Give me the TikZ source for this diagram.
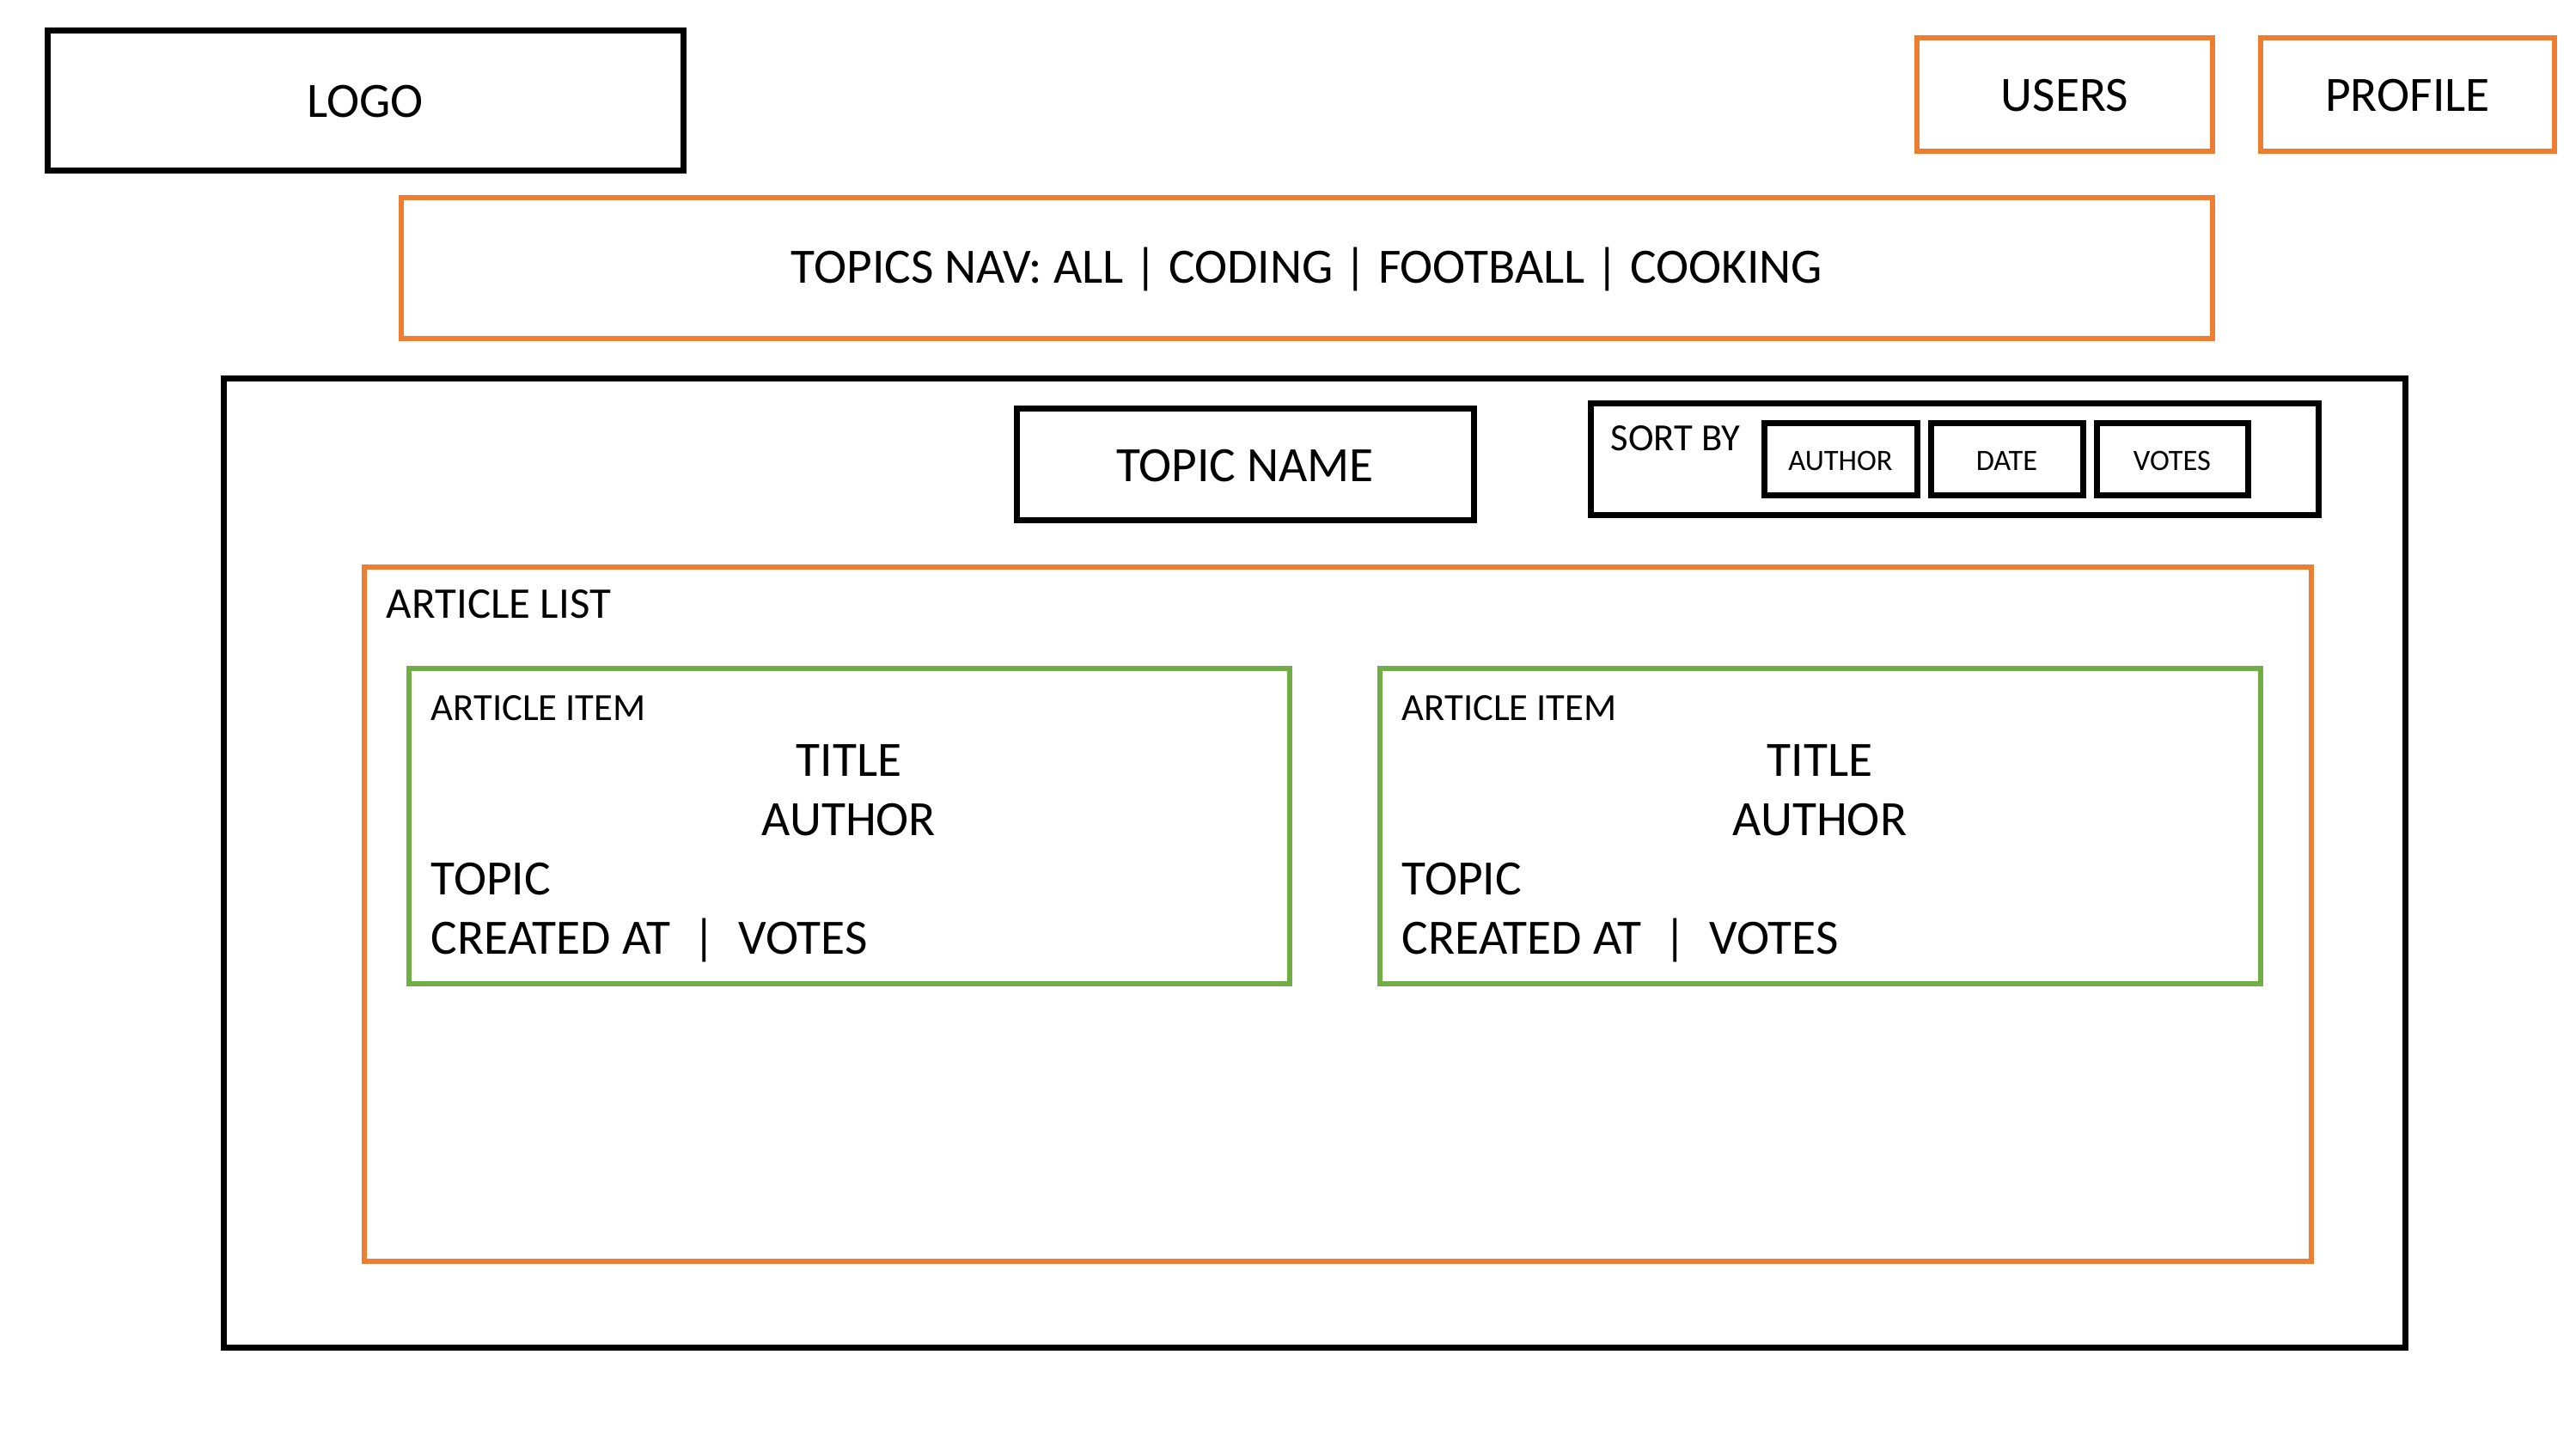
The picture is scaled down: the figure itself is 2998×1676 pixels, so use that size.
\documentclass[tikz,border=0pt]{standalone}
\usepackage{fontspec}
\setmainfont{Carlito}
\usetikzlibrary{fit}
\definecolor{wforange}{HTML}{ED7D31}
\definecolor{wfgreen}{HTML}{70AD47}
\begin{document}
\begin{tikzpicture}[x=0.1mm,y=-0.1mm,
  blackbox/.style={draw=black, line width=0.7mm, inner sep=0pt},
  orangebox/.style={draw=wforange, line width=0.62mm, inner sep=0pt},
  greenbox/.style={draw=wfgreen, line width=0.62mm, inner sep=0pt},
  txt/.style={inner sep=0pt, text=black},
  bigtxt/.style={txt, font=\fontsize{16.35pt}{19.5pt}\selectfont},
  midtxt/.style={txt, font=\fontsize{14.5pt}{17pt}\selectfont},
  smalltxt/.style={txt, font=\fontsize{12.7pt}{15pt}\selectfont},
  tinytxt/.style={txt, font=\fontsize{9.8pt}{12pt}\selectfont},
  down/.style={yshift=-0.1mm}]
\useasboundingbox[fill=white] (0,0) rectangle (2998,1676);

% header
\node[blackbox, fit={(55,36)(795,199)}] (logo) {};
\node[bigtxt, down] (logotxt) at (logo.center) {LOGO};
\node[orangebox, fit={(2231,44)(2575,176)}] (users) {};
\node[bigtxt, down] (userstxt) at (users.center) {USERS};
\node[orangebox, fit={(2631,44)(2973,176)}] (profile) {};
\node[bigtxt, down] (profiletxt) at (profile.center) {PROFILE};
\node[orangebox, fit={(467,230)(2575,394)}] (topics) {};
\node[bigtxt, down] (topicstxt) at (topics.center) {TOPICS NAV: ALL | CODING | FOOTBALL | COOKING};

% main area
\node[blackbox, fit={(260,441)(2799,1568)}] (main) {};
\node[blackbox, fit={(1183,476)(1715,606)}] (topicname) {};
\node[bigtxt, down] (topicnametxt) at (topicname.center) {TOPIC NAME};
\node[blackbox, fit={(1851,470)(2698,600)}] (sort) {};
\node[smalltxt, anchor=base west] (sorttxt) at (1874,525) {SORT BY};
\node[blackbox, fit={(2053,493)(2231,577)}] (byauthor) {};
\node[tinytxt, down] (byauthortxt) at (byauthor.center) {AUTHOR};
\node[blackbox, fit={(2247,493)(2424,577)}] (bydate) {};
\node[tinytxt, down] (bydatetxt) at (bydate.center) {DATE};
\node[blackbox, fit={(2440,493)(2616,577)}] (byvotes) {};
\node[tinytxt, down] (byvotestxt) at (byvotes.center) {VOTES};

% article list
\node[orangebox, fit={(424,660)(2690,1468)}] (list) {};
\node[midtxt, anchor=base west] (listtxt) at (449,720) {ARTICLE LIST};

% item 1
\node[greenbox, fit={(476,778)(1501,1145)}] (itemA) {};
\node[smalltxt, anchor=base west] (itemAlabel) at (501,839) {ARTICLE ITEM};
\node[bigtxt, anchor=base] (itemAtitle) at (988,903) {TITLE};
\node[bigtxt, anchor=base] (itemAauthor) at (988,972) {AUTHOR};
\node[bigtxt, anchor=base west] (itemAtopic) at (501,1041) {TOPIC};
\node[bigtxt, anchor=base west] (itemAmeta) at (501,1110) {CREATED AT~~|~~VOTES};

% item 2
\node[greenbox, fit={(1606,778)(2631,1145)}] (itemB) {};
\node[smalltxt, anchor=base west] (itemBlabel) at (1631,839) {ARTICLE ITEM};
\node[bigtxt, anchor=base] (itemBtitle) at (2118,903) {TITLE};
\node[bigtxt, anchor=base] (itemBauthor) at (2118,972) {AUTHOR};
\node[bigtxt, anchor=base west] (itemBtopic) at (1631,1041) {TOPIC};
\node[bigtxt, anchor=base west] (itemBmeta) at (1631,1110) {CREATED AT~~|~~VOTES};
\end{tikzpicture}
\end{document}
